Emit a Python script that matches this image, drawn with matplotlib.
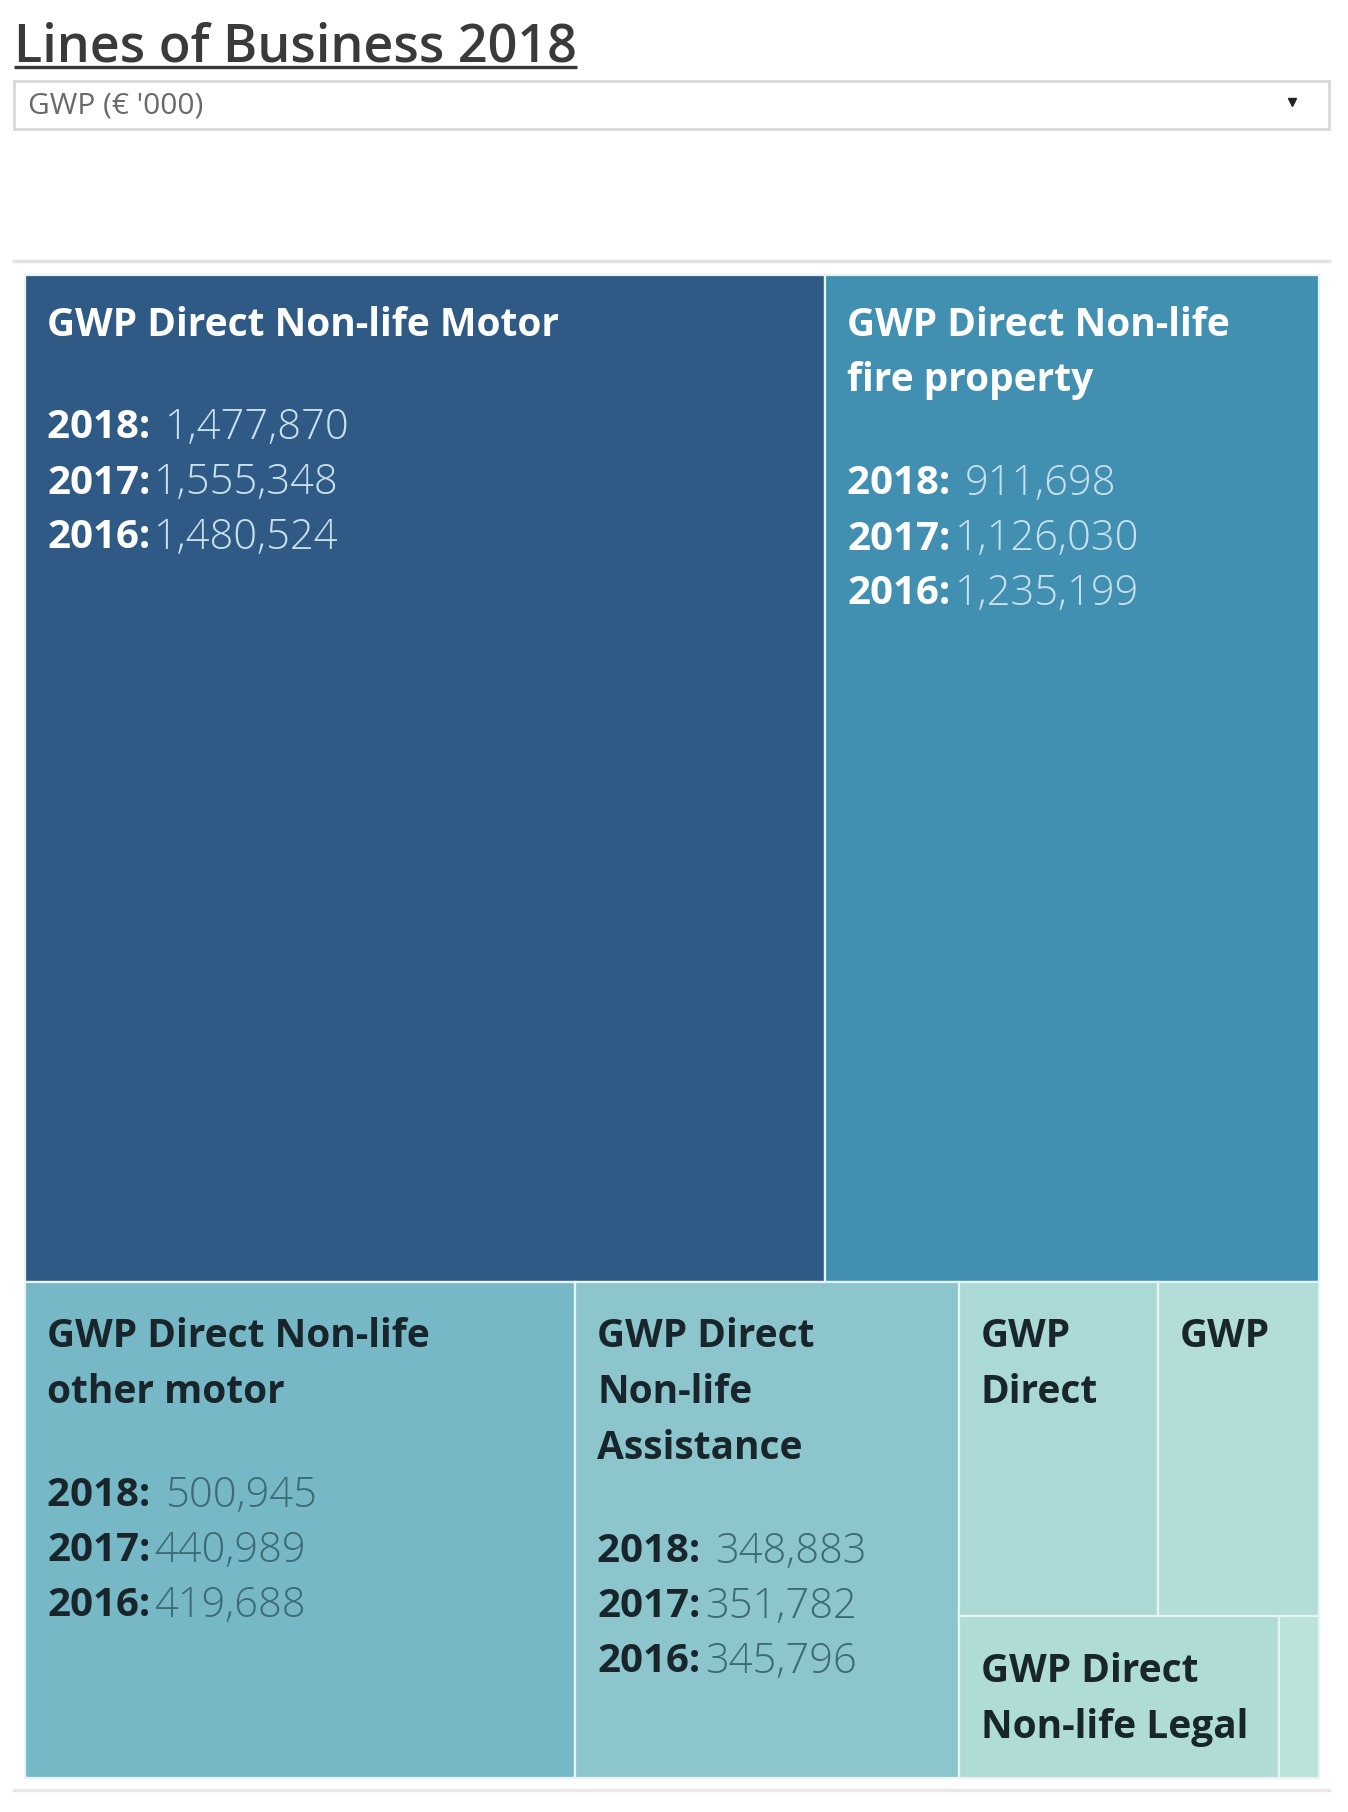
"""Treemap of GWP by line of business, 2018."""

import matplotlib.pyplot as plt
from matplotlib.patches import Rectangle

# Data
lines = [
    "GWP Direct Non-life Motor",
    "GWP Direct Non-life\nfire property",
    "GWP Direct Non-life\nother motor",
    "GWP Direct\nNon-life\nAssistance",
    "GWP\nDirect",
    "GWP",
    "GWP Direct\nNon-life Legal",
    "",
]
gwp_2018 = [1477870, 911698, 500945, 348883, 122000, 99000, 95000, 12000]
gwp_2017 = [1555348, 1126030, 440989, 351782, None, None, None, None]
gwp_2016 = [1480524, 1235199, 419688, 345796, None, None, None, None]
years = ["2018", "2017", "2016"]

# how many cells go into each squarified strip
groups = [2, 1, 1, 2, 2]

cell_colors = ["#2f5a85", "#4190b1", "#77b8c6", "#8dc5cd",
               "#abd9d6", "#b2ddd8", "#b0dcd6", "#bbe3da"]
dark = [True, True, False, False, False, False, False, False]

LABEL_FONT = ["Open Sans", "DejaVu Sans"]


def layout(values, groups, x, y, w, h):
    """Lay values out in strips, alternating on the shorter side."""
    rects = []
    rem = float(sum(values))
    i = 0
    for gi, n in enumerate(groups):
        vals = values[i:i + n]
        s = float(sum(vals))
        last = gi == len(groups) - 1
        along_x = (w >= h) if last else (w <= h)
        if along_x:
            hh = h if last else h * s / rem
            cx = x
            for v in vals:
                ww = w * v / s
                rects.append((cx, y, ww, hh))
                cx += ww
            y += hh
            h -= hh
        else:
            ww = w if last else w * s / rem
            cy = y
            for v in vals:
                vh = h * v / s
                rects.append((x, cy, ww, vh))
                cy += vh
            x += ww
            w -= ww
        rem -= s
        i += n
    return rects


fig = plt.figure(figsize=(13.48, 18.12), dpi=100)
ax = fig.add_axes([0, 0, 1, 1])
ax.set_xlim(0, 1348)
ax.set_ylim(1812, 0)
ax.axis("off")
renderer = fig.canvas.get_renderer()

# Title + underline
title = ax.text(14, 62, "Lines of Business 2018", fontsize=37.5, fontweight="semibold",
                color="#3a3a3a", family=LABEL_FONT, ha="left", va="baseline")
bb = title.get_window_extent(renderer)
ax.plot([14, 14 + bb.width], [67, 67], color="#3a3a3a", lw=2.4, solid_capstyle="butt")

# Dropdown
ax.add_patch(Rectangle((14, 81), 1315, 48, facecolor="white", edgecolor="#d9d9d9", lw=2))
ax.text(28, 106, "GWP (\u20ac '000)", fontsize=21.5, color="#6a6a6a", family=LABEL_FONT,
        ha="left", va="center")
ax.plot([1292], [102], marker="v", color="#222222", markersize=5.5)

# Separator lines
ax.plot([14, 1329], [261, 261], color="#e4e4e4", lw=2.5)
ax.plot([14, 1329], [1790, 1790], color="#ebe6e8", lw=2.5)

rects = layout(gwp_2018, groups, 25, 275, 1294, 1503)

for k, (x, y, w, h) in enumerate(rects):
    ax.add_patch(Rectangle((x, y), w, h, facecolor=cell_colors[k],
                           edgecolor="#e6f4f4", lw=1.6))
    lab_col = "white" if dark[k] else "#18262c"
    val_col = "#c9e0ec" if dark[k] else "#3d6a74"
    tx = x + 22
    ty = y + 50 if dark[k] else y + 55
    if not lines[k]:
        continue
    title_lines = lines[k].split("\n")
    for ln in title_lines:
        ax.text(tx, ty, ln, fontsize=28, fontweight="bold", color=lab_col,
                family=LABEL_FONT, ha="left", va="center")
        ty += 56
    if gwp_2017[k] is None:
        continue
    ty += 47
    for yr, vals in zip(years, [gwp_2018, gwp_2017, gwp_2016]):
        lbl = yr + (": " if yr == "2018" else ":")
        t = ax.text(tx, ty, lbl, fontsize=29, fontweight="bold", color=lab_col,
                    family=LABEL_FONT, ha="left", va="center")
        wpx = t.get_window_extent(renderer).width
        ax.text(tx + wpx + 4, ty, f"{vals[k]:,}", fontsize=30, fontweight="light",
                color=val_col, family=LABEL_FONT, ha="left", va="center")
        ty += 55

fig.savefig("out.png", dpi=100)
